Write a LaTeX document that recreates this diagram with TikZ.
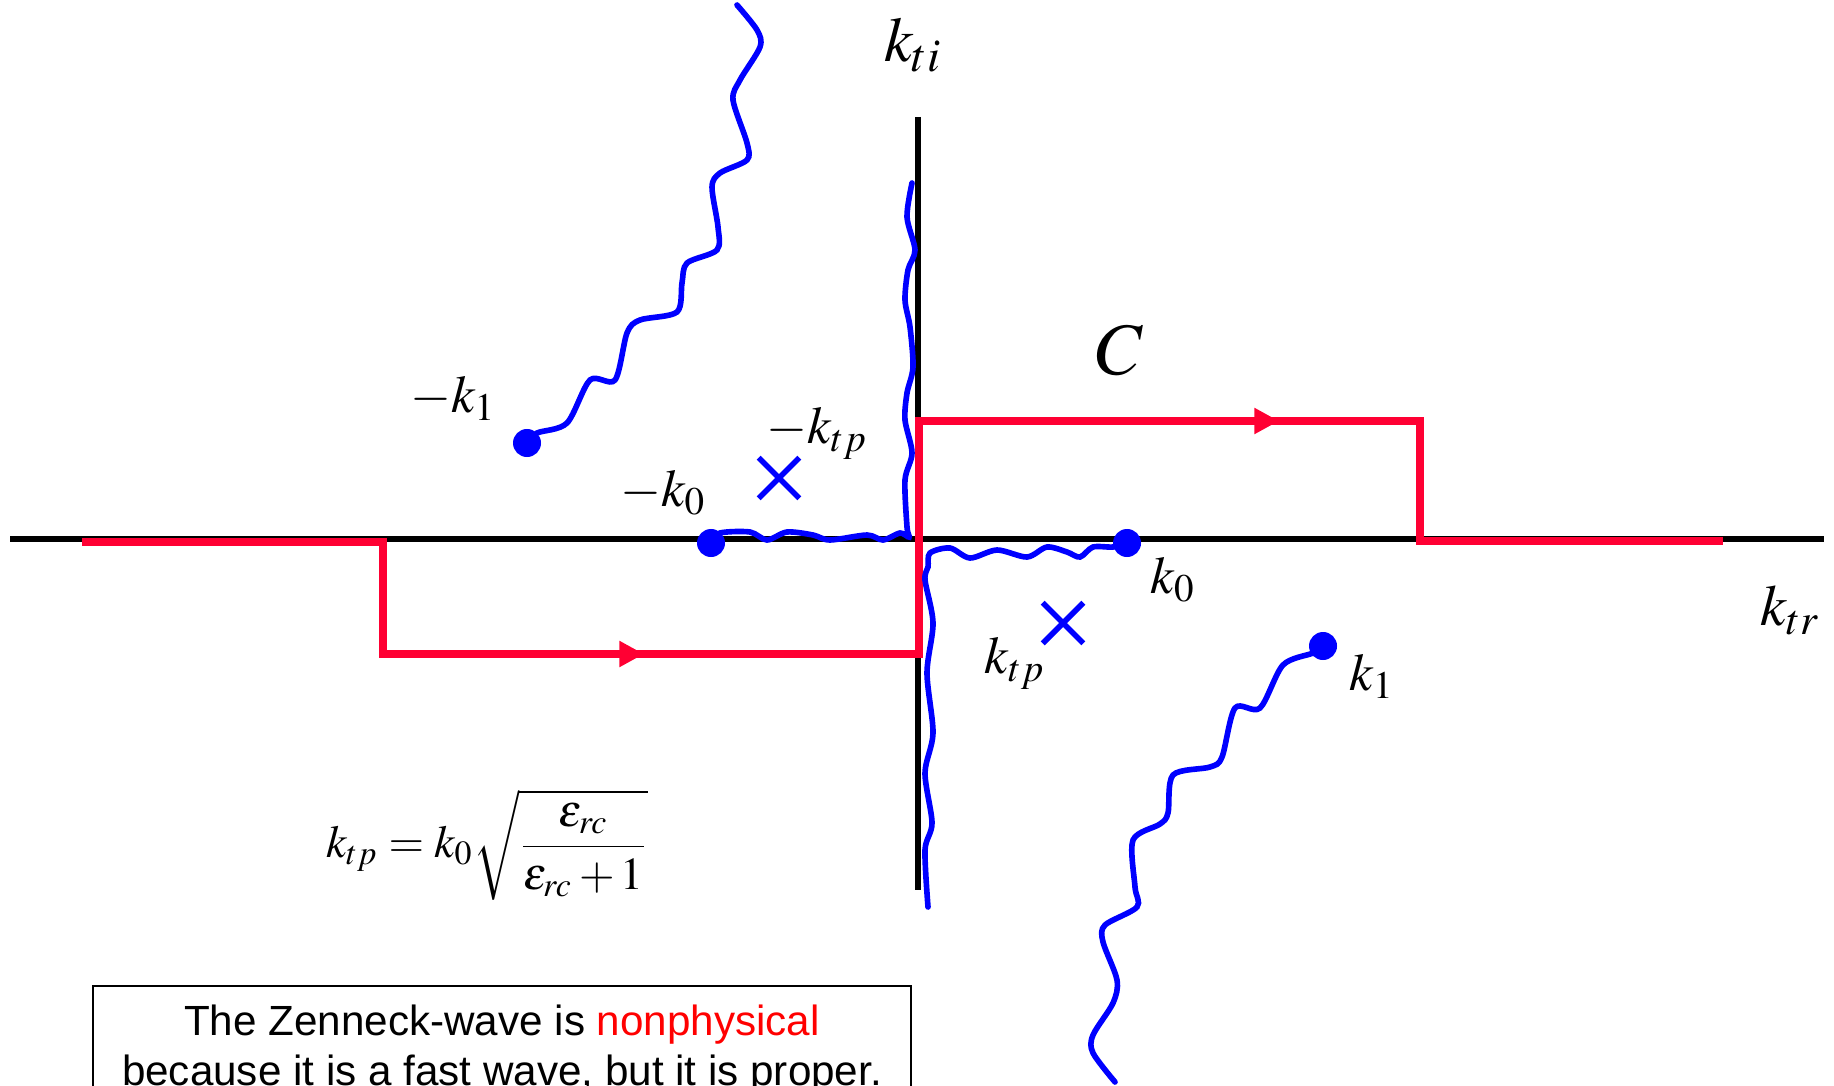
\documentclass[tikz,border=0pt]{standalone}
\usepackage{mathptmx}
\usepackage{fontspec}
\setsansfont{Liberation Sans}
\usetikzlibrary{arrows.meta, shapes.misc}
\definecolor{contourred}{HTML}{FF0033}
\definecolor{cutblue}{HTML}{0000FF}
\newcommand{\lblsize}{\fontsize{15}{18}\selectfont}

\begin{document}
\begin{tikzpicture}[x=0.01cm, y=-0.01cm,
  axis/.style={line width=1.5pt},
  contour/.style={draw=contourred, line width=2.2pt},
  cut/.style={draw=cutblue, line width=1.6pt, line cap=round},
  branchpt/.style={circle, fill=cutblue, inner sep=0pt, minimum size=0.28cm},
  pole/.style={cross out, draw=cutblue, line width=1.6pt, inner sep=0pt, minimum size=0.35cm},
  lbl/.style={font=\lblsize, inner sep=0pt},
  notebox/.style={draw, line width=0.5pt, font=\sffamily\fontsize{12}{14.2}\selectfont, align=center, minimum width=8.17cm, inner ysep=0.19cm, anchor=north}]
\clip (0,0) rectangle (1834,1085);

% axes
\draw[axis] (10,539) -- (1824,539);
\draw[axis] (918,117) -- (918,890);
\node[lbl, font=\fontsize{18}{21}\selectfont] (kti) at (913,45) {$k_{ti}$};
\node[lbl, font=\fontsize{16.5}{20}\selectfont] (ktr) at (1790,610) {$k_{tr}$};

% integration path C
\coordinate (c1) at (82,542);
\coordinate (c2) at (383,542);
\coordinate (c3) at (383,654);
\coordinate (c4) at (919,654);
\coordinate (c5) at (919,421);
\coordinate (c6) at (1420,421);
\coordinate (c7) at (1420,541);
\coordinate (c8) at (1723,541);
\coordinate (arrlow) at (644,654);
\coordinate (arrup) at (1279,421);
\draw[contour] (c1) -- (c2) -- (c3) -- (c4) -- (c5) -- (c6) -- (c7) -- (c8);
\draw[contour, -{Triangle[length=7pt, width=7pt]}] (c3) -- (arrlow);
\draw[contour, -{Triangle[length=7pt, width=7pt]}] (c5) -- (arrup);
\node[lbl, font=\fontsize{21}{25}\selectfont] (cname) at (1120,350) {$C$};

% branch points and poles
\node[branchpt] (mk1) at (527,443) {};
\node[branchpt] (mk0) at (711,543) {};
\node[branchpt] (k0) at (1127,543) {};
\node[branchpt] (k1) at (1323,646) {};
\node[pole] (mktp) at (779,478) {};
\node[pole] (ktp) at (1063,623) {};

% branch cuts
\draw[cut] plot[smooth] coordinates {(mk1.center) (537,433) (567,423) (590,380) (615,380) (627,333) (640,320) (677,312) (682,283) (687,263) (717,250) (718,227) (712,187) (720,173) (747,160) (747,143) (733,100) (740,80) (760,47) (757,30) (737,5)};
\draw[cut] plot[smooth] coordinates {(k1.center) (1313,653) (1283,665) (1260,708) (1235,708) (1222,757) (1210,767) (1173,775) (1168,813) (1160,824) (1133,840) (1135,887) (1137,907) (1105,925) (1103,942) (1117,980) (1113,1003) (1093,1035) (1093,1053) (1115,1082)};
\draw[cut] plot[smooth] coordinates {(mk0.center) (720,533) (750,532) (767,540) (787,532) (813,535) (830,540) (867,535) (883,540) (900,533) (909,537) (907,527) (905,480) (912,453) (905,420) (907,393) (913,367) (910,327) (905,300) (908,270) (915,250) (907,217) (912,183)};
\draw[cut] plot[smooth] coordinates {(k0.center) (1113,547) (1093,547) (1080,557) (1067,552) (1047,547) (1027,557) (997,550) (970,558) (950,548) (930,553) (928,567) (925,580) (933,623) (927,673) (933,733) (925,773) (932,823) (925,850) (928,907)};

% labels
\node[lbl] (lmk1) at (453,398) {$-k_1$};
\node[lbl] (lmk0) at (663,493) {$-k_0$};
\node[lbl] (lmktp) at (817,433) {$-k_{tp}$};
\node[lbl] (lk0) at (1173,580) {$k_0$};
\node[lbl] (lktp) at (1015,663) {$k_{tp}$};
\node[lbl] (lk1) at (1372,676) {$k_1$};
\node[lbl, font=\fontsize{13}{16}\selectfont] (formula) at (487,845) {$\displaystyle k_{tp} = k_0\sqrt{\frac{\varepsilon_{rc}}{\varepsilon_{rc}+1}}$};

\node[notebox] (note) at (502,985) {The Zenneck-wave is \textcolor{red}{nonphysical}\\ because it is a fast wave, but it is proper.};
\end{tikzpicture}
\end{document}
